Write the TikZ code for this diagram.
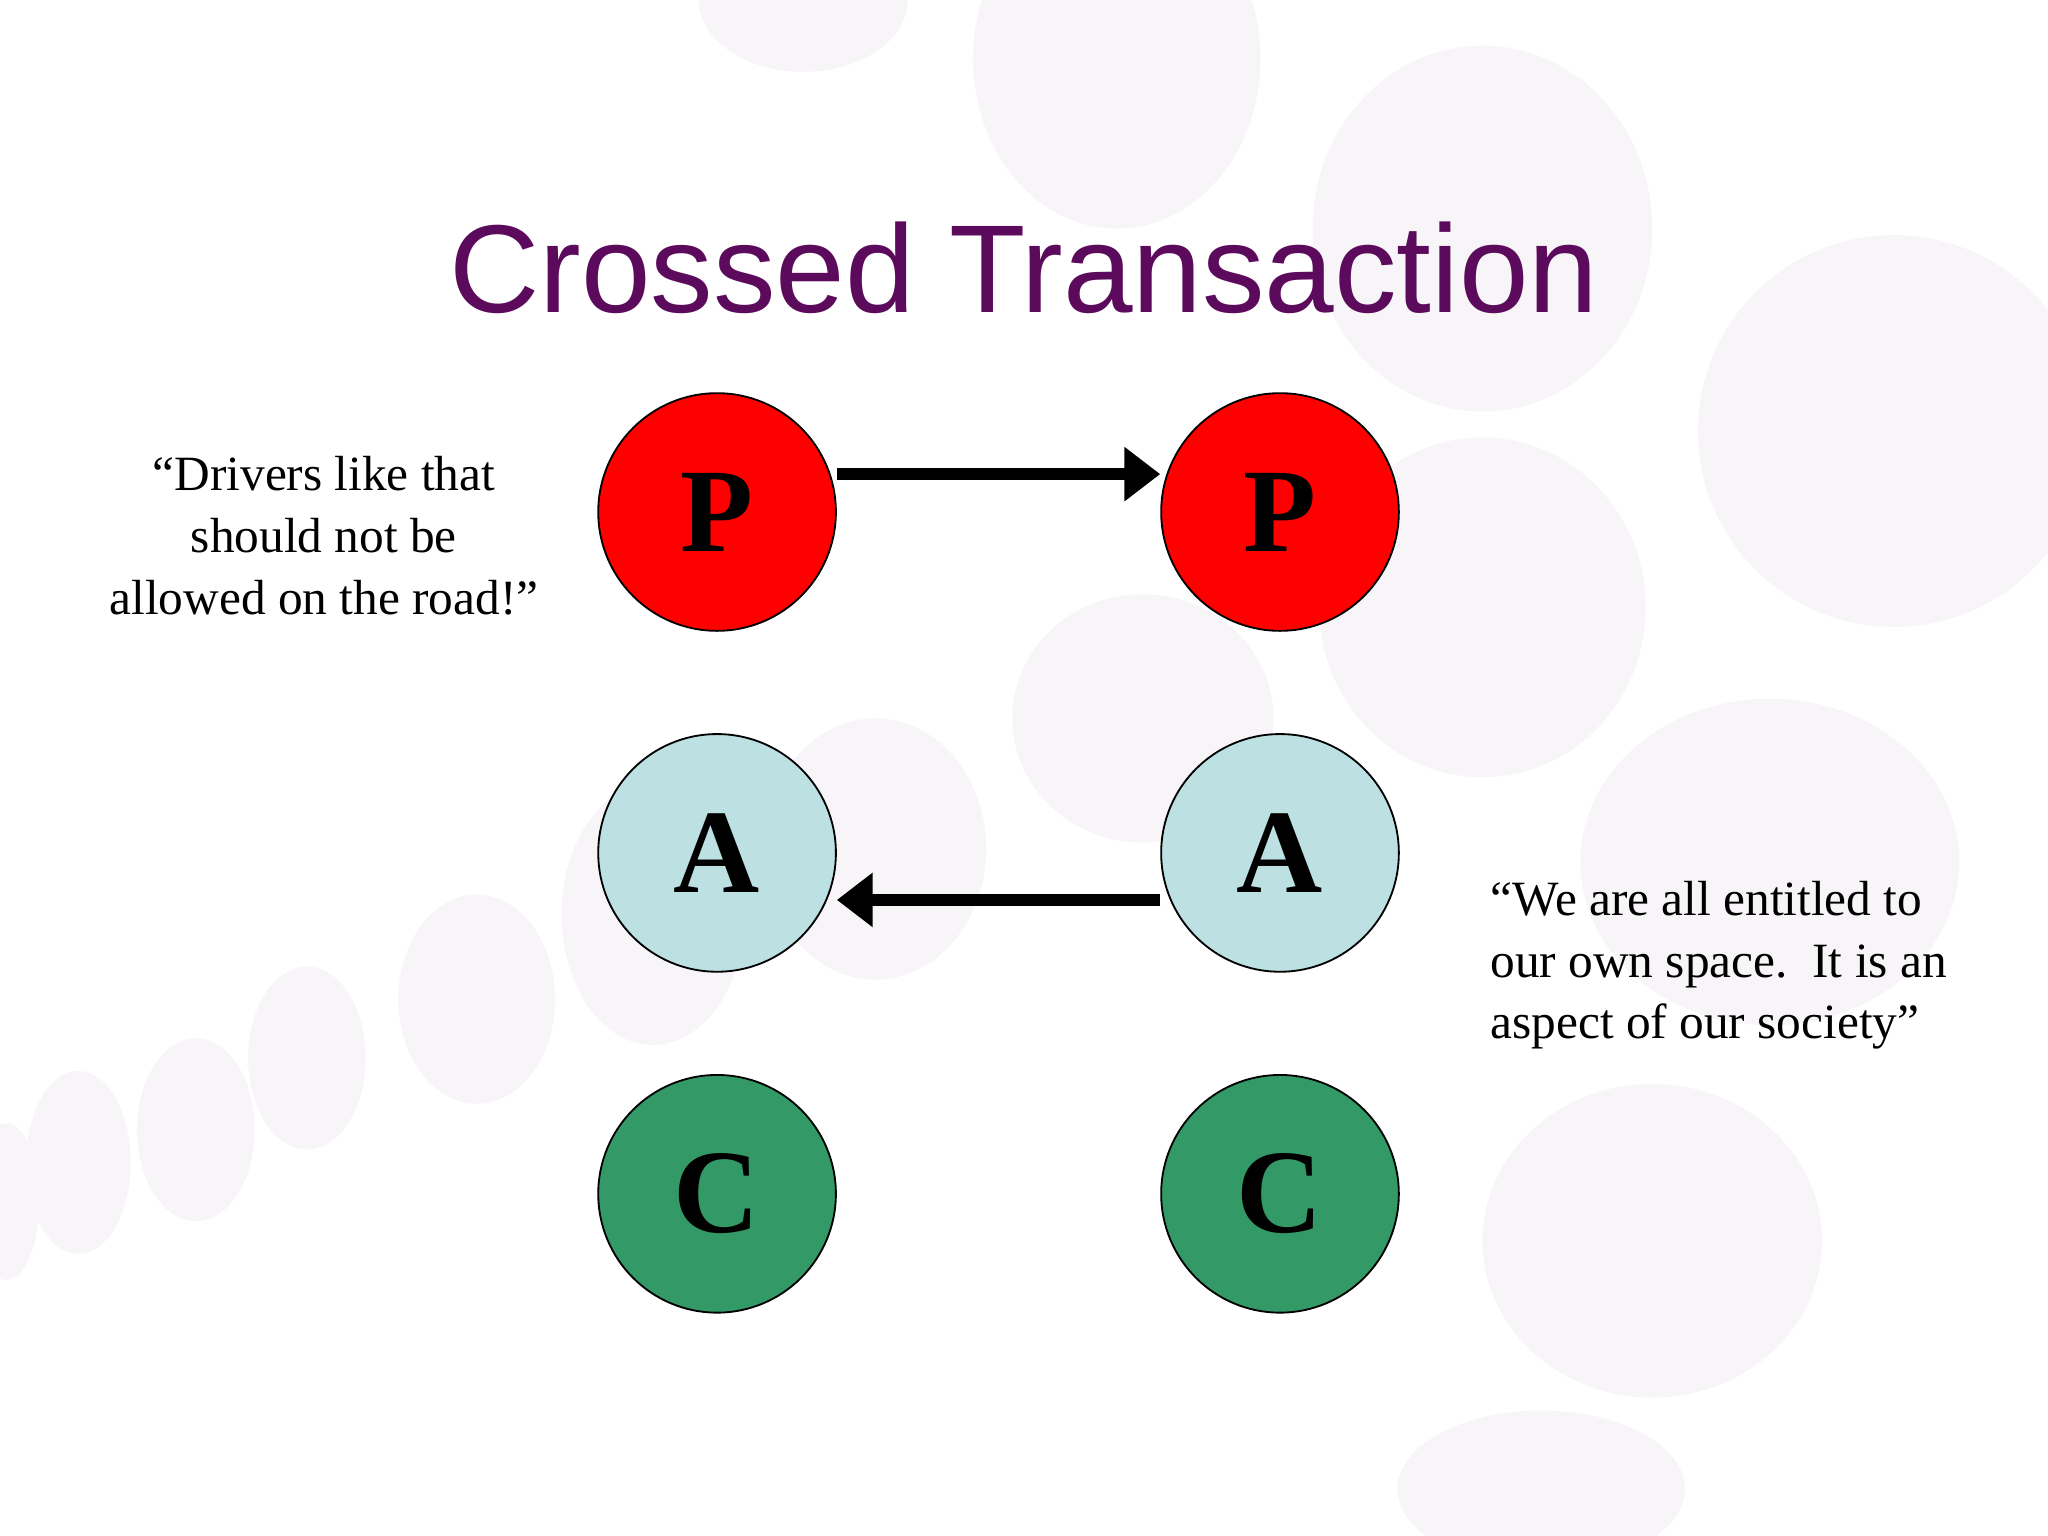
\documentclass[tikz,border=0pt]{standalone}
\usepackage{fontspec}
\setmainfont{Liberation Serif}
\newfontfamily\titlefont{Liberation Sans}
\usetikzlibrary{arrows.meta}
\definecolor{bgdot}{HTML}{F8F5F8}
\definecolor{ttl}{HTML}{5C0A5C}
\definecolor{pred}{HTML}{FF0000}
\definecolor{ablue}{HTML}{BDE0E3}
\definecolor{cgreen}{HTML}{339966}
\tikzset{
  ego/.style={circle,draw=black,line width=0.8pt,minimum size=3.64cm,inner sep=0pt,font=\fontsize{52}{52}\selectfont\bfseries},
  flow/.style={line width=5pt,-{Triangle[length=0.55cm,width=0.8cm]}},
  quote/.style={font=\fontsize{21.5}{27}\selectfont}
}
\begin{document}
\begin{tikzpicture}[x=0.02cm,y=-0.02cm]
\useasboundingbox (0,0) rectangle (1568,1176);
\fill[white] (0,0) rectangle (1568,1176);
\begin{scope}[bgdot]
\fill (615,0) ellipse (80 and 55);
\fill (855,45) ellipse (110 and 130);
\fill (1135,175) ellipse (130 and 140);
\fill (1450,330) ellipse (150 and 150);
\fill (1135,465) ellipse (125 and 130);
\fill (875,550) ellipse (100 and 95);
\fill (1355,660) ellipse (145 and 125);
\fill (1265,950) ellipse (130 and 120);
\fill (1180,1140) ellipse (110 and 60);
\fill (670,650) ellipse (85 and 100);
\fill (500,700) ellipse (70 and 100);
\fill (365,765) ellipse (60 and 80);
\fill (235,810) ellipse (45 and 70);
\fill (150,865) ellipse (45 and 70);
\fill (60,890) ellipse (40 and 70);
\fill (5,920) ellipse (25 and 60);
\end{scope}
\node[font=\titlefont\fontsize{54.5}{56}\selectfont,text=ttl] (title) at (784,205) {Crossed Transaction};
\node[ego,fill=pred] (p1) at (549,392) {\raisebox{-8pt}{P}};
\node[ego,fill=pred] (p2) at (980,392) {\raisebox{-8pt}{P}};
\node[ego,fill=ablue] (a1) at (549,653) {\raisebox{-8pt}{A}};
\node[ego,fill=ablue] (a2) at (980,653) {\raisebox{-8pt}{A}};
\node[ego,fill=cgreen] (c1) at (549,914) {\raisebox{-8pt}{C}};
\node[ego,fill=cgreen] (c2) at (980,914) {\raisebox{-8pt}{C}};
\draw[flow] (p1.east|-0,363) -- (p2.west|-0,363);
\draw[flow] (a2.west|-0,689) -- (a1.east|-0,689);
\node[quote,align=center] (q1) at (248,410) {“Drivers like that\\should not be\\allowed on the road!”};
\node[quote,align=left,anchor=west] (q2) at (1135,739) {“We are all entitled to\\our own space.\enspace It is an\\aspect of our society”};
\end{tikzpicture}
\end{document}
